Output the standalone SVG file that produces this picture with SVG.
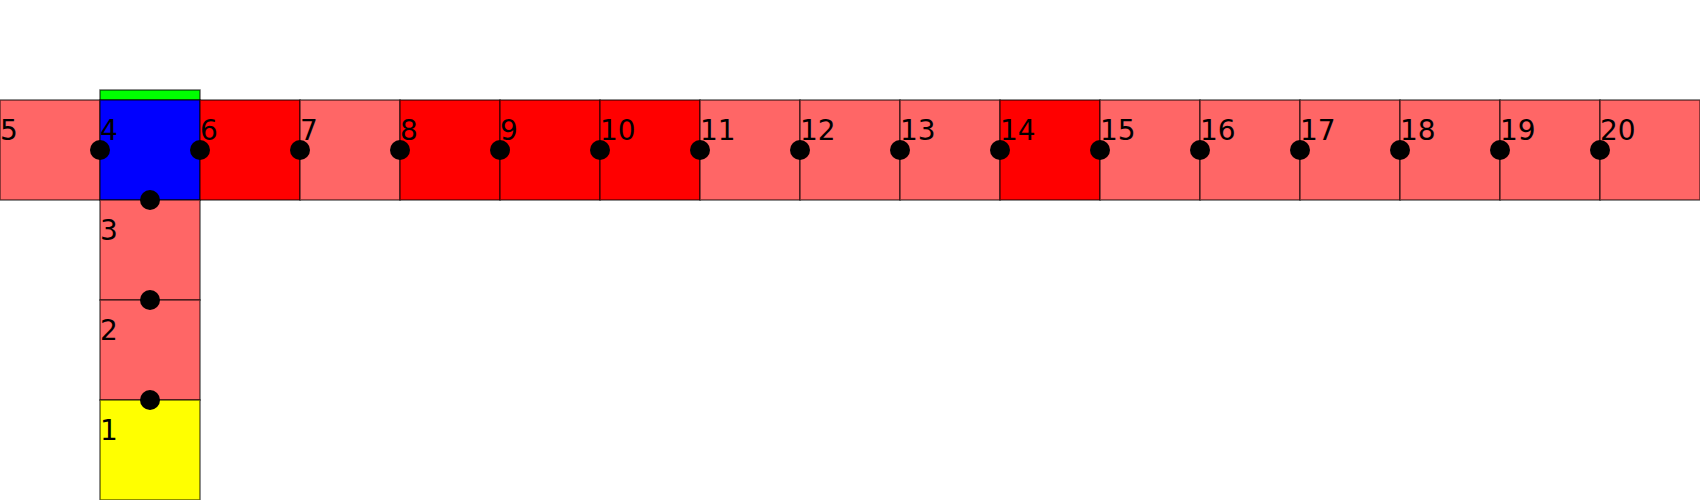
<svg xmlns="http://www.w3.org/2000/svg" width="1700" height="500" viewBox="0 0 1700 500">
<style>
.c{stroke:#000;stroke-opacity:0.6;stroke-width:1.5}
.lr{fill:#ff6666}
.r{fill:#ff0000}
.b{fill:#0000ff}
.g{fill:#00ff00}
.y{fill:#ffff00}
text{font-family:"DejaVu Sans",sans-serif;font-size:28px;fill:#000}
.d{fill:#000}
</style>
<rect width="1700" height="500" fill="#fff"/>
<g id="strip"><rect class="c g" x="100" y="90" width="100" height="10"/></g>
<g id="n5"><rect class="c lr" x="0" y="100" width="100" height="100"/><text x="0" y="140">5</text></g>
<g id="n4"><rect class="c b" x="100" y="100" width="100" height="100"/><text x="100" y="140">4</text></g>
<g id="n6"><rect class="c r" x="200" y="100" width="100" height="100"/><text x="200" y="140">6</text></g>
<g id="n7"><rect class="c lr" x="300" y="100" width="100" height="100"/><text x="300" y="140">7</text></g>
<g id="n8"><rect class="c r" x="400" y="100" width="100" height="100"/><text x="400" y="140">8</text></g>
<g id="n9"><rect class="c r" x="500" y="100" width="100" height="100"/><text x="500" y="140">9</text></g>
<g id="n10"><rect class="c r" x="600" y="100" width="100" height="100"/><text x="600" y="140">10</text></g>
<g id="n11"><rect class="c lr" x="700" y="100" width="100" height="100"/><text x="700" y="140">11</text></g>
<g id="n12"><rect class="c lr" x="800" y="100" width="100" height="100"/><text x="800" y="140">12</text></g>
<g id="n13"><rect class="c lr" x="900" y="100" width="100" height="100"/><text x="900" y="140">13</text></g>
<g id="n14"><rect class="c r" x="1000" y="100" width="100" height="100"/><text x="1000" y="140">14</text></g>
<g id="n15"><rect class="c lr" x="1100" y="100" width="100" height="100"/><text x="1100" y="140">15</text></g>
<g id="n16"><rect class="c lr" x="1200" y="100" width="100" height="100"/><text x="1200" y="140">16</text></g>
<g id="n17"><rect class="c lr" x="1300" y="100" width="100" height="100"/><text x="1300" y="140">17</text></g>
<g id="n18"><rect class="c lr" x="1400" y="100" width="100" height="100"/><text x="1400" y="140">18</text></g>
<g id="n19"><rect class="c lr" x="1500" y="100" width="100" height="100"/><text x="1500" y="140">19</text></g>
<g id="n20"><rect class="c lr" x="1600" y="100" width="100" height="100"/><text x="1600" y="140">20</text></g>
<g id="n3"><rect class="c lr" x="100" y="200" width="100" height="100"/><text x="100" y="240">3</text></g>
<g id="n2"><rect class="c lr" x="100" y="300" width="100" height="100"/><text x="100" y="340">2</text></g>
<g id="n1"><rect class="c y" x="100" y="400" width="100" height="100"/><text x="100" y="440">1</text></g>
<g id="connectors">
<circle class="d" cx="100" cy="150" r="10"/>
<circle class="d" cx="200" cy="150" r="10"/>
<circle class="d" cx="300" cy="150" r="10"/>
<circle class="d" cx="400" cy="150" r="10"/>
<circle class="d" cx="500" cy="150" r="10"/>
<circle class="d" cx="600" cy="150" r="10"/>
<circle class="d" cx="700" cy="150" r="10"/>
<circle class="d" cx="800" cy="150" r="10"/>
<circle class="d" cx="900" cy="150" r="10"/>
<circle class="d" cx="1000" cy="150" r="10"/>
<circle class="d" cx="1100" cy="150" r="10"/>
<circle class="d" cx="1200" cy="150" r="10"/>
<circle class="d" cx="1300" cy="150" r="10"/>
<circle class="d" cx="1400" cy="150" r="10"/>
<circle class="d" cx="1500" cy="150" r="10"/>
<circle class="d" cx="1600" cy="150" r="10"/>
<circle class="d" cx="150" cy="200" r="10"/>
<circle class="d" cx="150" cy="300" r="10"/>
<circle class="d" cx="150" cy="400" r="10"/>
</g>
</svg>
